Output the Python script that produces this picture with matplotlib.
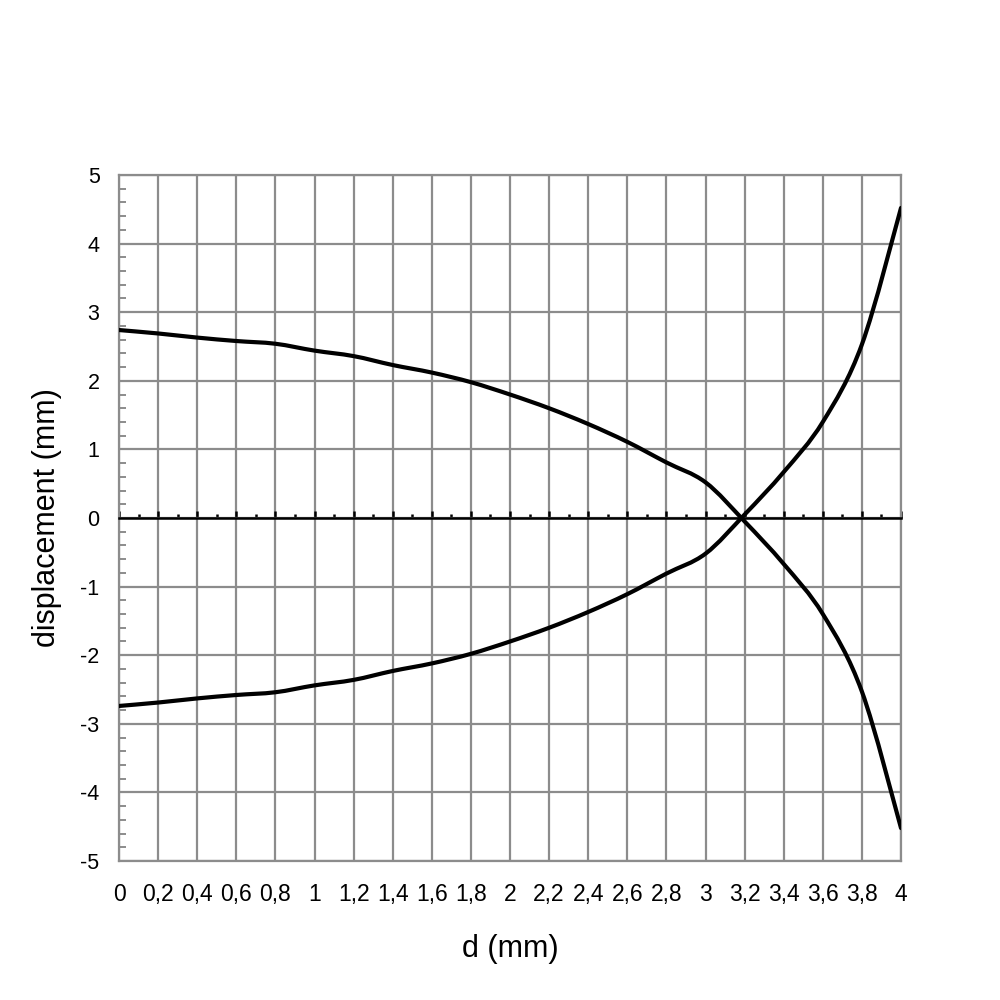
import matplotlib
matplotlib.use('Agg')
import matplotlib.pyplot as plt
from matplotlib.path import Path
from matplotlib.patches import PathPatch
from matplotlib.ticker import MultipleLocator, FuncFormatter

# d (mm) values, one every 0.2 mm
d = [0, 0.2, 0.4, 0.6, 0.8, 1.0, 1.2, 1.4, 1.6, 1.8, 2.0,
     2.2, 2.4, 2.6, 2.8, 3.0, 3.2, 3.4, 3.6, 3.8, 4.0]

# displacement (mm)
upper = [2.74, 2.69, 2.63, 2.58, 2.54, 2.44, 2.36, 2.23, 2.12, 1.98, 1.80,
         1.60, 1.37, 1.11, 0.81, 0.52, -0.05, -0.67, -1.40, -2.53, -4.52]
lower = [-2.74, -2.69, -2.63, -2.58, -2.54, -2.44, -2.36, -2.23, -2.12, -1.98, -1.80,
         -1.60, -1.37, -1.11, -0.81, -0.52, 0.05, 0.67, 1.40, 2.53, 4.52]


def smooth_path(xs, ys):
    # excel style "smoothed line": cubic bezier through every point
    verts = [(xs[0], ys[0])]
    codes = [Path.MOVETO]
    n = len(xs)
    for i in range(n - 1):
        x0, y0 = xs[max(i - 1, 0)], ys[max(i - 1, 0)]
        x1, y1 = xs[i], ys[i]
        x2, y2 = xs[i + 1], ys[i + 1]
        x3, y3 = xs[min(i + 2, n - 1)], ys[min(i + 2, n - 1)]
        c1 = (x1 + (x2 - x0) / 6, y1 + (y2 - y0) / 6)
        c2 = (x2 - (x3 - x1) / 6, y2 - (y3 - y1) / 6)
        verts += [c1, c2, (x2, y2)]
        codes += [Path.CURVE4] * 3
    return Path(verts, codes)


plt.rcParams['font.family'] = ['Liberation Sans', 'DejaVu Sans']

fig = plt.figure(figsize=(10, 10), dpi=100)
ax = fig.add_axes([0.119, 0.139, 0.782, 0.686])

grid_col = '#8c8c8c'

for series in [upper, lower]:
    ax.add_patch(PathPatch(smooth_path(d, series), fill=False, edgecolor='black',
                           lw=3, capstyle='round', joinstyle='round', zorder=5))

ax.set_xlim(0, 4)
ax.set_ylim(-5, 5)

# grid
ax.xaxis.set_major_locator(MultipleLocator(0.2))
ax.xaxis.set_minor_locator(MultipleLocator(0.1))
ax.yaxis.set_major_locator(MultipleLocator(1))
ax.yaxis.set_minor_locator(MultipleLocator(0.2))
ax.grid(True, which='major', color=grid_col, lw=1.6)
ax.set_axisbelow(True)

for s in ['top', 'right', 'left']:
    ax.spines[s].set_color(grid_col)
    ax.spines[s].set_linewidth(1.6)

# zero line with upward ticks
ax.spines['bottom'].set_position(('data', 0))
ax.spines['bottom'].set_color('black')
ax.spines['bottom'].set_linewidth(1.8)
ax.spines['bottom'].set_zorder(4)
ax.tick_params(axis='x', which='major', direction='in', length=5, width=1.8,
               color='black', labelbottom=False)
ax.tick_params(axis='x', which='minor', direction='in', length=3, width=1.8,
               color='black')

# y axis
ax.tick_params(axis='y', which='major', length=0, pad=14, labelsize=15.5)
ax.tick_params(axis='y', which='minor', direction='in', length=5, width=1.4,
               color=grid_col)
ax.yaxis.set_major_formatter(FuncFormatter(lambda v, p: '%d' % v))

# x labels at the bottom edge
sec = ax.secondary_xaxis('bottom')
sec.xaxis.set_major_locator(MultipleLocator(0.2))
sec.xaxis.set_major_formatter(FuncFormatter(lambda v, p: ('%g' % round(v, 1)).replace('.', ',')))
sec.tick_params(axis='x', length=0, pad=16, labelsize=16.5)
sec.spines['bottom'].set_color(grid_col)
sec.spines['bottom'].set_linewidth(1.6)

sec.set_xlabel('d (mm)', fontsize=22, labelpad=20)
ax.set_ylabel('displacement (mm)', fontsize=22, labelpad=13)

fig.savefig('out.png', dpi=100)
